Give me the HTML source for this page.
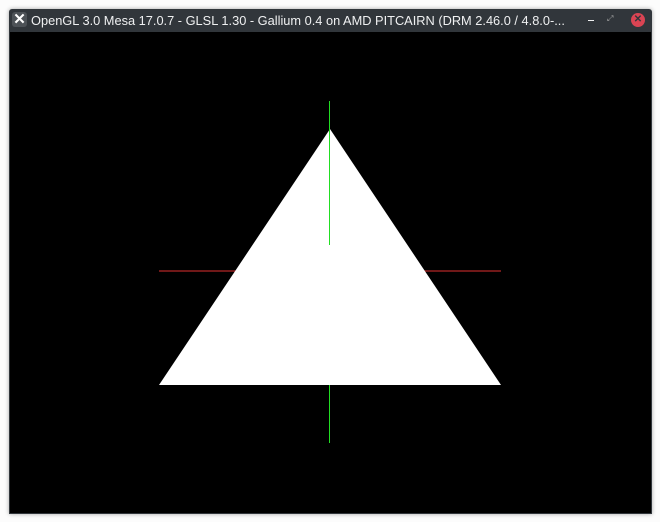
<!DOCTYPE html>
<html><head><meta charset="utf-8"><style>
html,body{margin:0;padding:0;background:#fcfcfc;width:660px;height:522px;overflow:hidden}
#win{position:absolute;left:9px;top:9px;width:643px;height:505px;background:#31363b;border-radius:3px 3px 0 0;box-shadow:0 0 4px rgba(0,0,0,.35)}
#title{position:absolute;left:0;top:0;width:643px;height:23px;font-family:"Liberation Sans",sans-serif;font-size:12.8px;color:#eff0f1;line-height:23px}
#ttext{position:absolute;left:22px;top:0;white-space:nowrap}
#content{position:absolute;left:1px;top:23px;width:641px;height:481px;background:#000}
</style></head><body>
<div id="win">
 <div id="title">
  <div style="position:absolute;left:3px;top:3px;width:15px;height:15px;background:#4d5257;border-radius:3px;color:#fff;font-weight:bold;font-size:15px;line-height:15px;text-align:center">✕</div>
  <span id="ttext">OpenGL 3.0 Mesa 17.0.7 - GLSL 1.30 - Gallium 0.4 on AMD PITCAIRN (DRM 2.46.0 / 4.8.0-...</span>
  <div style="position:absolute;left:579px;top:11px;width:6px;height:1px;background:#eff0f1"></div>
  <div style="position:absolute;left:598px;top:7px;width:6px;height:6px;color:#aaa;font-size:8px;line-height:6px">⤢</div>
  <div style="position:absolute;left:622px;top:4px;width:14px;height:14px;border-radius:50%;background:#da4453;color:#31363b;font-size:10px;line-height:14px;text-align:center;font-weight:bold">✕</div>
 </div>
 <div id="content">
  <svg width="641" height="481" viewBox="10 32 641 481">
   <line x1="159" y1="271" x2="501" y2="271" stroke="#e03030" stroke-width="1"/>
   <line x1="329.5" y1="101" x2="329.5" y2="443" stroke="#22dd22" stroke-width="1"/>
   <polygon points="330,129 501,385 159,385" fill="#fff"/>
   <line x1="329.5" y1="129" x2="329.5" y2="245" stroke="#22dd22" stroke-width="1"/>
  </svg>
 </div>
</div>
</body></html>
